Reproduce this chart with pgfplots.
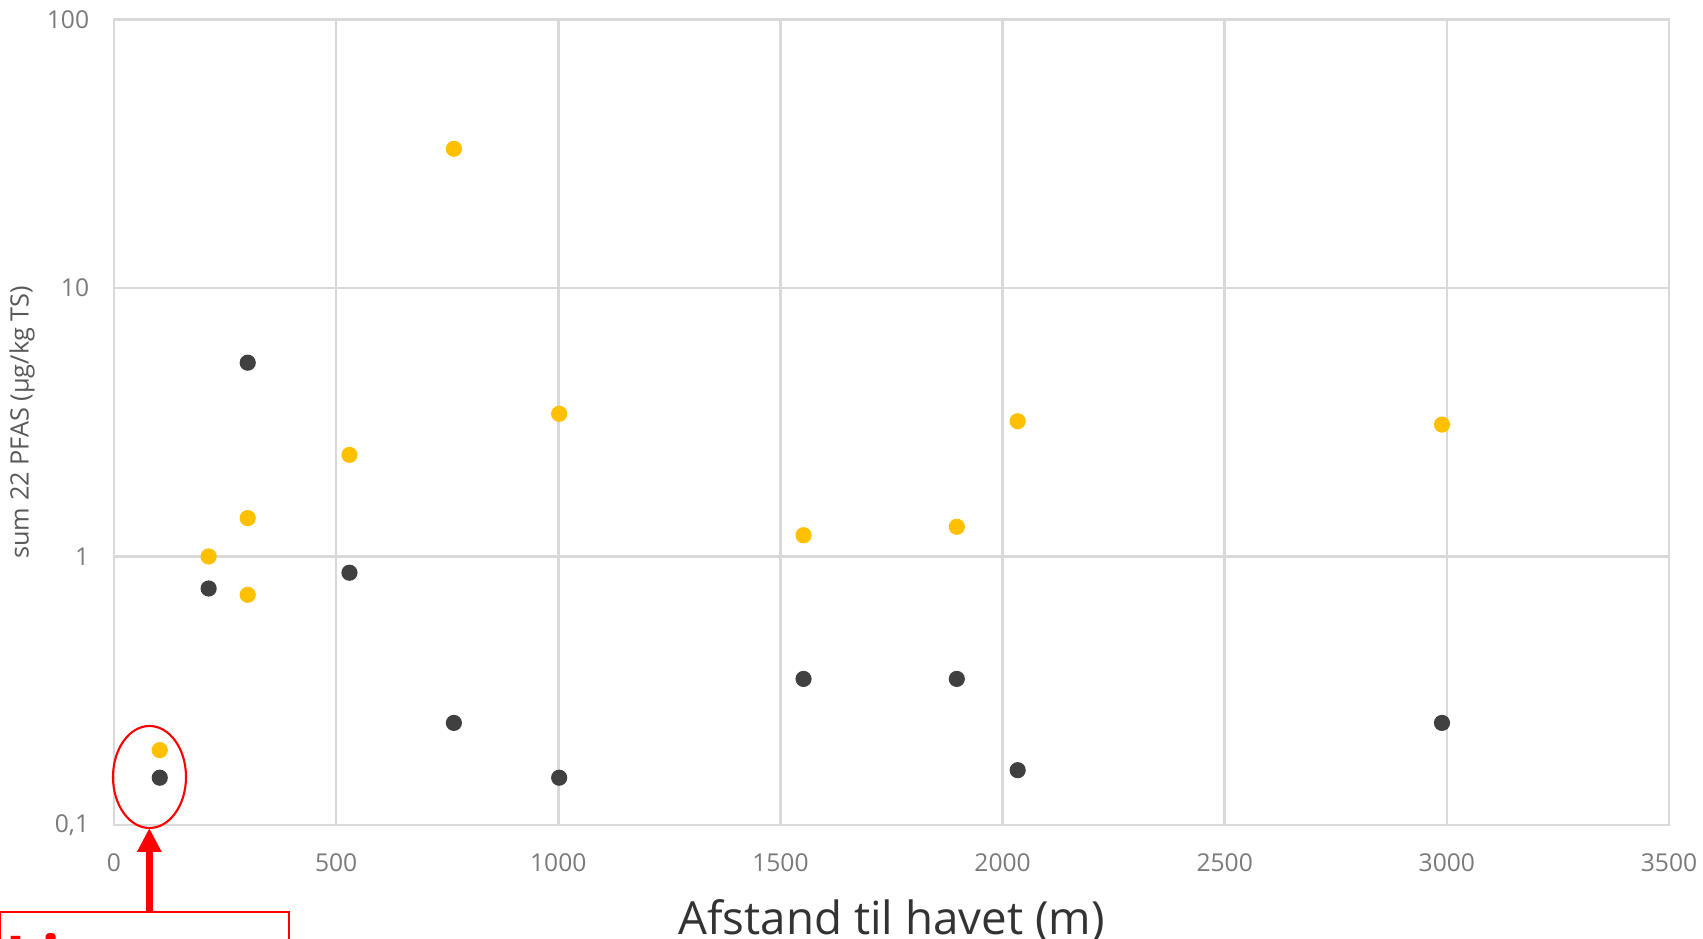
\documentclass[border=0pt]{standalone}
\usepackage{fontspec}
\setmainfont{Open Sans}
\usepackage{pgfplots}
\pgfplotsset{compat=1.18}
\usetikzlibrary{arrows.meta}
\definecolor{gridgray}{HTML}{D9D9D9}
\definecolor{tickgray}{HTML}{7A7A7A}
\definecolor{ylabgray}{HTML}{595959}
\definecolor{xlabdark}{HTML}{333333}
\definecolor{pfasyellow}{HTML}{FFC000}
\definecolor{pfasdark}{HTML}{404040}
\definecolor{annred}{HTML}{FF0000}
\begin{document}
\begin{tikzpicture}
\begin{axis}[
  at={(1.14cm,1.14cm)}, anchor=south west,
  scale only axis, width=15.55cm, height=8.055cm,
  xmin=0, xmax=3500, ymode=log, log basis y=10, ymin=0.1, ymax=100,
  xtick={0,500,...,3500},
  ytick={0.1,1,10,100}, yticklabels={0{,}1,1,10,100},
  minor ytick={},
  grid=major,
  major grid style={draw=gridgray, line width=0.7pt},
  axis line style={draw=gridgray, line width=0.7pt},
  major tick length=0pt, tick style={draw=none},
  /pgf/number format/assume math mode=true,
  /pgf/number format/set thousands separator={},
  xticklabel style={font=\fontsize{7}{8}\selectfont, text=tickgray, anchor=north, yshift=-0.16cm},
  yticklabel style={font=\fontsize{7}{8}\selectfont, text=tickgray, anchor=east, xshift=-0.125cm},
  xlabel={Afstand til havet (m)},
  xlabel style={font=\fontsize{13}{15}\selectfont, text=xlabdark, at={(axis description cs:0.5,-0.1186)}, anchor=center},
  ylabel={sum 22 PFAS (µg/kg TS)},
  ylabel style={font=\fontsize{7.2}{9}\selectfont, text=ylabgray, at={(axis description cs:-0.0592,0.5)}, anchor=center},
  clip=false,
]
\addplot[only marks, mark=*, mark size=2.1pt, color=pfasyellow, mark options={draw=pfasyellow, fill=pfasyellow}] coordinates {
  (103,0.19) (213,1.0) (301,1.39) (301,0.72) (530,2.39) (765,33)
  (1002,3.4) (1552,1.2) (1897,1.29) (2034,3.19) (2989,3.1)
};
\addplot[only marks, mark=*, mark size=2.1pt, color=pfasdark, mark options={draw=pfasdark, fill=pfasdark}] coordinates {
  (103,0.15) (213,0.76) (301,5.27) (530,0.87) (765,0.24) (1002,0.15)
  (1552,0.35) (1897,0.35) (2034,0.16) (2989,0.24)
};
\end{axis}
% annotation
\draw[annred, line width=0.6pt] (1.495,1.62) ellipse [x radius=0.365, y radius=0.51];
\draw[annred, line width=2pt, -{Triangle[width=0.23cm, length=0.24cm]}] (1.493,0.27) -- (1.493,1.11);
\draw[annred, line width=0.6pt] (0,-1.6) rectangle (2.89,0.27);
\node[anchor=north west, inner sep=0pt, text=annred, text width=2.8cm, align=left, font=\bfseries\fontsize{18}{22}\selectfont] at (0.05,0.06) {Lite påvirket område};
\pgfresetboundingbox
\path[use as bounding box] (0,0) rectangle (17.03,9.39);
\end{tikzpicture}
\end{document}
